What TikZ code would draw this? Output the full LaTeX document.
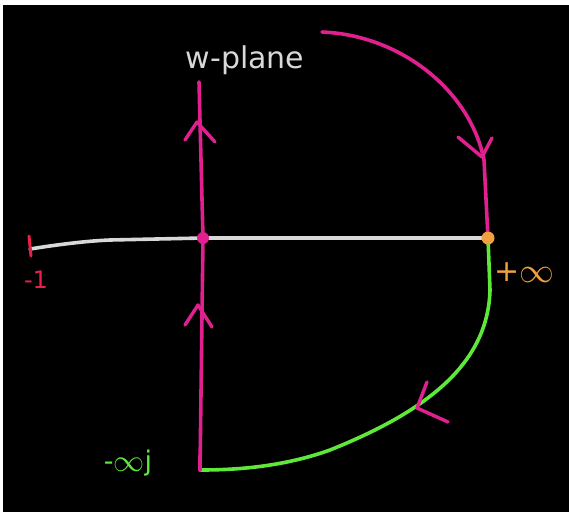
\documentclass[tikz,border=0pt]{standalone}
\usepackage{fontspec}
\usepackage{graphicx}
\setmainfont{DejaVu Sans}
\definecolor{mag}{HTML}{E0208F}
\definecolor{grn}{HTML}{5EE83A}
\definecolor{org}{HTML}{F0A040}
\definecolor{redl}{HTML}{E8204A}
\definecolor{gry}{HTML}{D8D8D8}
\begin{document}
\begin{tikzpicture}[x=1pt,y=-1pt,
  pen/.style={line width=3.6pt,line cap=round,line join=round},
  chev/.style={pen,line width=3.4pt},
  lbl/.style={inner sep=0pt,font=\fontsize{30}{32}\selectfont}]
\useasboundingbox (0,0) rectangle (569,512);
\fill[white] (0,0) rectangle (569,512);
\fill[black] (3,5) rectangle (569,512);
% coordinates
\coordinate (L) at (30,249);
\coordinate (Lm) at (110,240);
\coordinate (X) at (203,238);
\coordinate (R) at (488,238);
\coordinate (T) at (199,82);
\coordinate (B) at (200,470);
\coordinate (S) at (322,32);
% white real axis
\draw[pen,gry] (L) .. controls (55,245) and (85,241) .. (Lm) -- (X) -- (R);
% red tick at -1
\draw[pen,redl,line width=3pt] (29,236) -- (31,256);
\node[lbl,redl,font=\fontsize{24}{26}\selectfont] (m1) at (36,280) {-1};
% magenta vertical
\draw[pen,mag] (B) -- (X) -- (T);
\fill[mag] (X) circle (6);
% magenta arc
\draw[pen,mag] (S) .. controls (400,35) and (470,90) .. (484,160) -- (R);
% green contour
\draw[pen,grn] (R) -- (490,290) .. controls (488,362) and (430,410) .. (330,450) .. controls (280,468) and (230,470) .. (B);
\draw[pen,mag] (B) -- (200,456);
\fill[org] (R) circle (6.5);
% chevrons
\draw[chev,mag] (185,140) -- (197,122) -- (215,142);
\draw[chev,mag] (185,325) -- (198,305) -- (212,327);
\draw[chev,mag] (458,137) -- (482,157) -- (492,138);
\draw[chev,mag] (427,382) -- (417,408) -- (448,422);
% labels
\node[lbl,gry] (wp) at (245,60) {w-plane};
\node[lbl,org] (pinf) at (524,273) {+\raisebox{-1pt}{\scalebox{1.4}{$\infty$}}};
\node[lbl,grn,font=\fontsize{27}{29}\selectfont] (minf) at (128,463) {-\raisebox{-1pt}{\scalebox{1.25}{$\infty$}}j};
\end{tikzpicture}
\end{document}
